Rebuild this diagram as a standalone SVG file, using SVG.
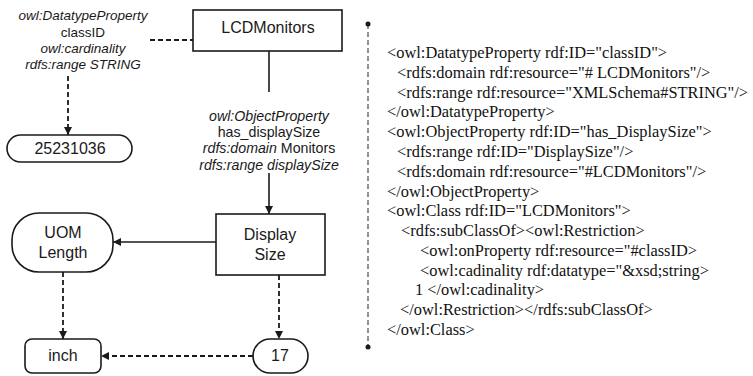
<svg xmlns="http://www.w3.org/2000/svg" width="753" height="376" viewBox="0 0 753 376">
  <style>
    .node { fill: #fff; stroke: #1a1a1a; stroke-width: 1.6; }
    .lbl { font-family: "Liberation Sans", Arial, sans-serif; font-size: 16px; fill: #1a1a1a; text-anchor: middle; }
    .prop { font-family: "Liberation Sans", Arial, sans-serif; font-size: 13.5px; fill: #1a1a1a; text-anchor: middle; }
    .prop2 { font-size: 14.2px; }
    .it { font-style: italic; }
    .solid { fill: none; stroke: #1a1a1a; stroke-width: 1.6; }
    .dash { fill: none; stroke: #1a1a1a; stroke-width: 1.8; stroke-dasharray: 5 3; }
    .sep { fill: none; stroke: #666; stroke-width: 1.4; stroke-dasharray: 5 3; }
    .code { font-family: "Liberation Serif", "Times New Roman", serif; font-size: 16.4px; fill: #111; }
  </style>
  <defs>
    <marker id="arrow" viewBox="0 0 10 10" refX="10" refY="5" markerWidth="8" markerHeight="8" markerUnits="userSpaceOnUse" orient="auto">
      <path d="M0,0 L10,5 L0,10 z" fill="#1a1a1a"/>
    </marker>
  </defs>

  <rect width="753" height="376" fill="#fff"/>

  <!-- connectors -->
  <g id="connectors">
    <line class="dash" x1="150" y1="40" x2="193" y2="40"/>
    <line class="dash" x1="68" y1="76" x2="68" y2="135" marker-end="url(#arrow)"/>
    <line class="solid" x1="269" y1="51" x2="269" y2="92"/>
    <line class="solid" x1="269" y1="173" x2="269" y2="214" marker-end="url(#arrow)"/>
    <line class="solid" x1="216" y1="242" x2="113" y2="242" marker-end="url(#arrow)"/>
    <line class="dash" x1="279" y1="275" x2="279" y2="339" marker-end="url(#arrow)"/>
    <line class="dash" x1="63" y1="272" x2="63" y2="339" marker-end="url(#arrow)"/>
    <line class="dash" x1="253" y1="356" x2="101" y2="356" marker-end="url(#arrow)"/>
  </g>

  <!-- property labels -->
  <g id="datatype-property">
    <text class="prop it" x="83" y="20">owl:DatatypeProperty</text>
    <text class="prop" x="83" y="37">classID</text>
    <text class="prop it" x="83" y="53">owl:cardinality</text>
    <text class="prop it" x="83" y="69">rdfs:range STRING</text>
  </g>
  <g id="object-property">
    <text class="prop prop2 it" x="269" y="121">owl:ObjectProperty</text>
    <text class="prop prop2" x="269" y="137">has_displaySize</text>
    <text class="prop prop2" x="269" y="153"><tspan class="it">rdfs:domain</tspan> Monitors</text>
    <text class="prop prop2 it" x="269" y="170">rdfs:range displaySize</text>
  </g>

  <!-- nodes -->
  <g id="lcdmonitors">
    <rect class="node" x="193" y="10" width="149" height="41"/>
    <text class="lbl" x="268" y="33">LCDMonitors</text>
  </g>
  <g id="value-25231036">
    <rect class="node" x="7" y="135" width="125" height="27" rx="13.5"/>
    <text class="lbl" x="70" y="154">25231036</text>
  </g>
  <g id="display-size">
    <rect class="node" x="216" y="214" width="109" height="61"/>
    <text class="lbl" x="270" y="240">Display</text>
    <text class="lbl" x="270" y="260">Size</text>
  </g>
  <g id="uom-length">
    <rect class="node" x="12" y="213" width="101" height="59" rx="27"/>
    <text class="lbl" x="63" y="238">UOM</text>
    <text class="lbl" x="63" y="258">Length</text>
  </g>
  <g id="inch">
    <rect class="node" x="25" y="339" width="76" height="34" rx="7"/>
    <text class="lbl" x="63" y="361">inch</text>
  </g>
  <g id="value-17">
    <rect class="node" x="253" y="339" width="55" height="34" rx="17"/>
    <text class="lbl" x="280" y="361">17</text>
  </g>

  <!-- separator -->
  <g id="separator">
    <line class="sep" x1="368" y1="24" x2="368" y2="347"/>
    <circle cx="368" cy="24" r="2.5" fill="#1a1a1a"/>
    <circle cx="368" cy="347" r="2.5" fill="#1a1a1a"/>
  </g>

  <!-- OWL source listing -->
  <g id="owl-listing" class="code">
    <text x="387" y="58">&lt;owl:DatatypeProperty rdf:ID="classID"&gt;</text>
    <text x="397" y="78">&lt;rdfs:domain rdf:resource="# LCDMonitors"/&gt;</text>
    <text x="397" y="98">&lt;rdfs:range rdf:resource="XMLSchema#STRING"/&gt;</text>
    <text x="387" y="117">&lt;/owl:DatatypeProperty&gt;</text>
    <text x="387" y="137">&lt;owl:ObjectProperty rdf:ID="has_DisplaySize"&gt;</text>
    <text x="397" y="157">&lt;rdfs:range rdf:ID="DisplaySize"/&gt;</text>
    <text x="397" y="177">&lt;rdfs:domain rdf:resource="#LCDMonitors"/&gt;</text>
    <text x="387" y="197">&lt;/owl:ObjectProperty&gt;</text>
    <text x="387" y="216">&lt;owl:Class rdf:ID="LCDMonitors"&gt;</text>
    <text x="401" y="236">&lt;rdfs:subClassOf&gt;&lt;owl:Restriction&gt;</text>
    <text x="420" y="256">&lt;owl:onProperty rdf:resource="#classID&gt;</text>
    <text x="420" y="276">&lt;owl:cadinality rdf:datatype="&amp;xsd;string&gt;</text>
    <text x="415" y="295">1 &lt;/owl:cadinality&gt;</text>
    <text x="400" y="315">&lt;/owl:Restriction&gt;&lt;/rdfs:subClassOf&gt;</text>
    <text x="387" y="335">&lt;/owl:Class&gt;</text>
  </g>
</svg>
